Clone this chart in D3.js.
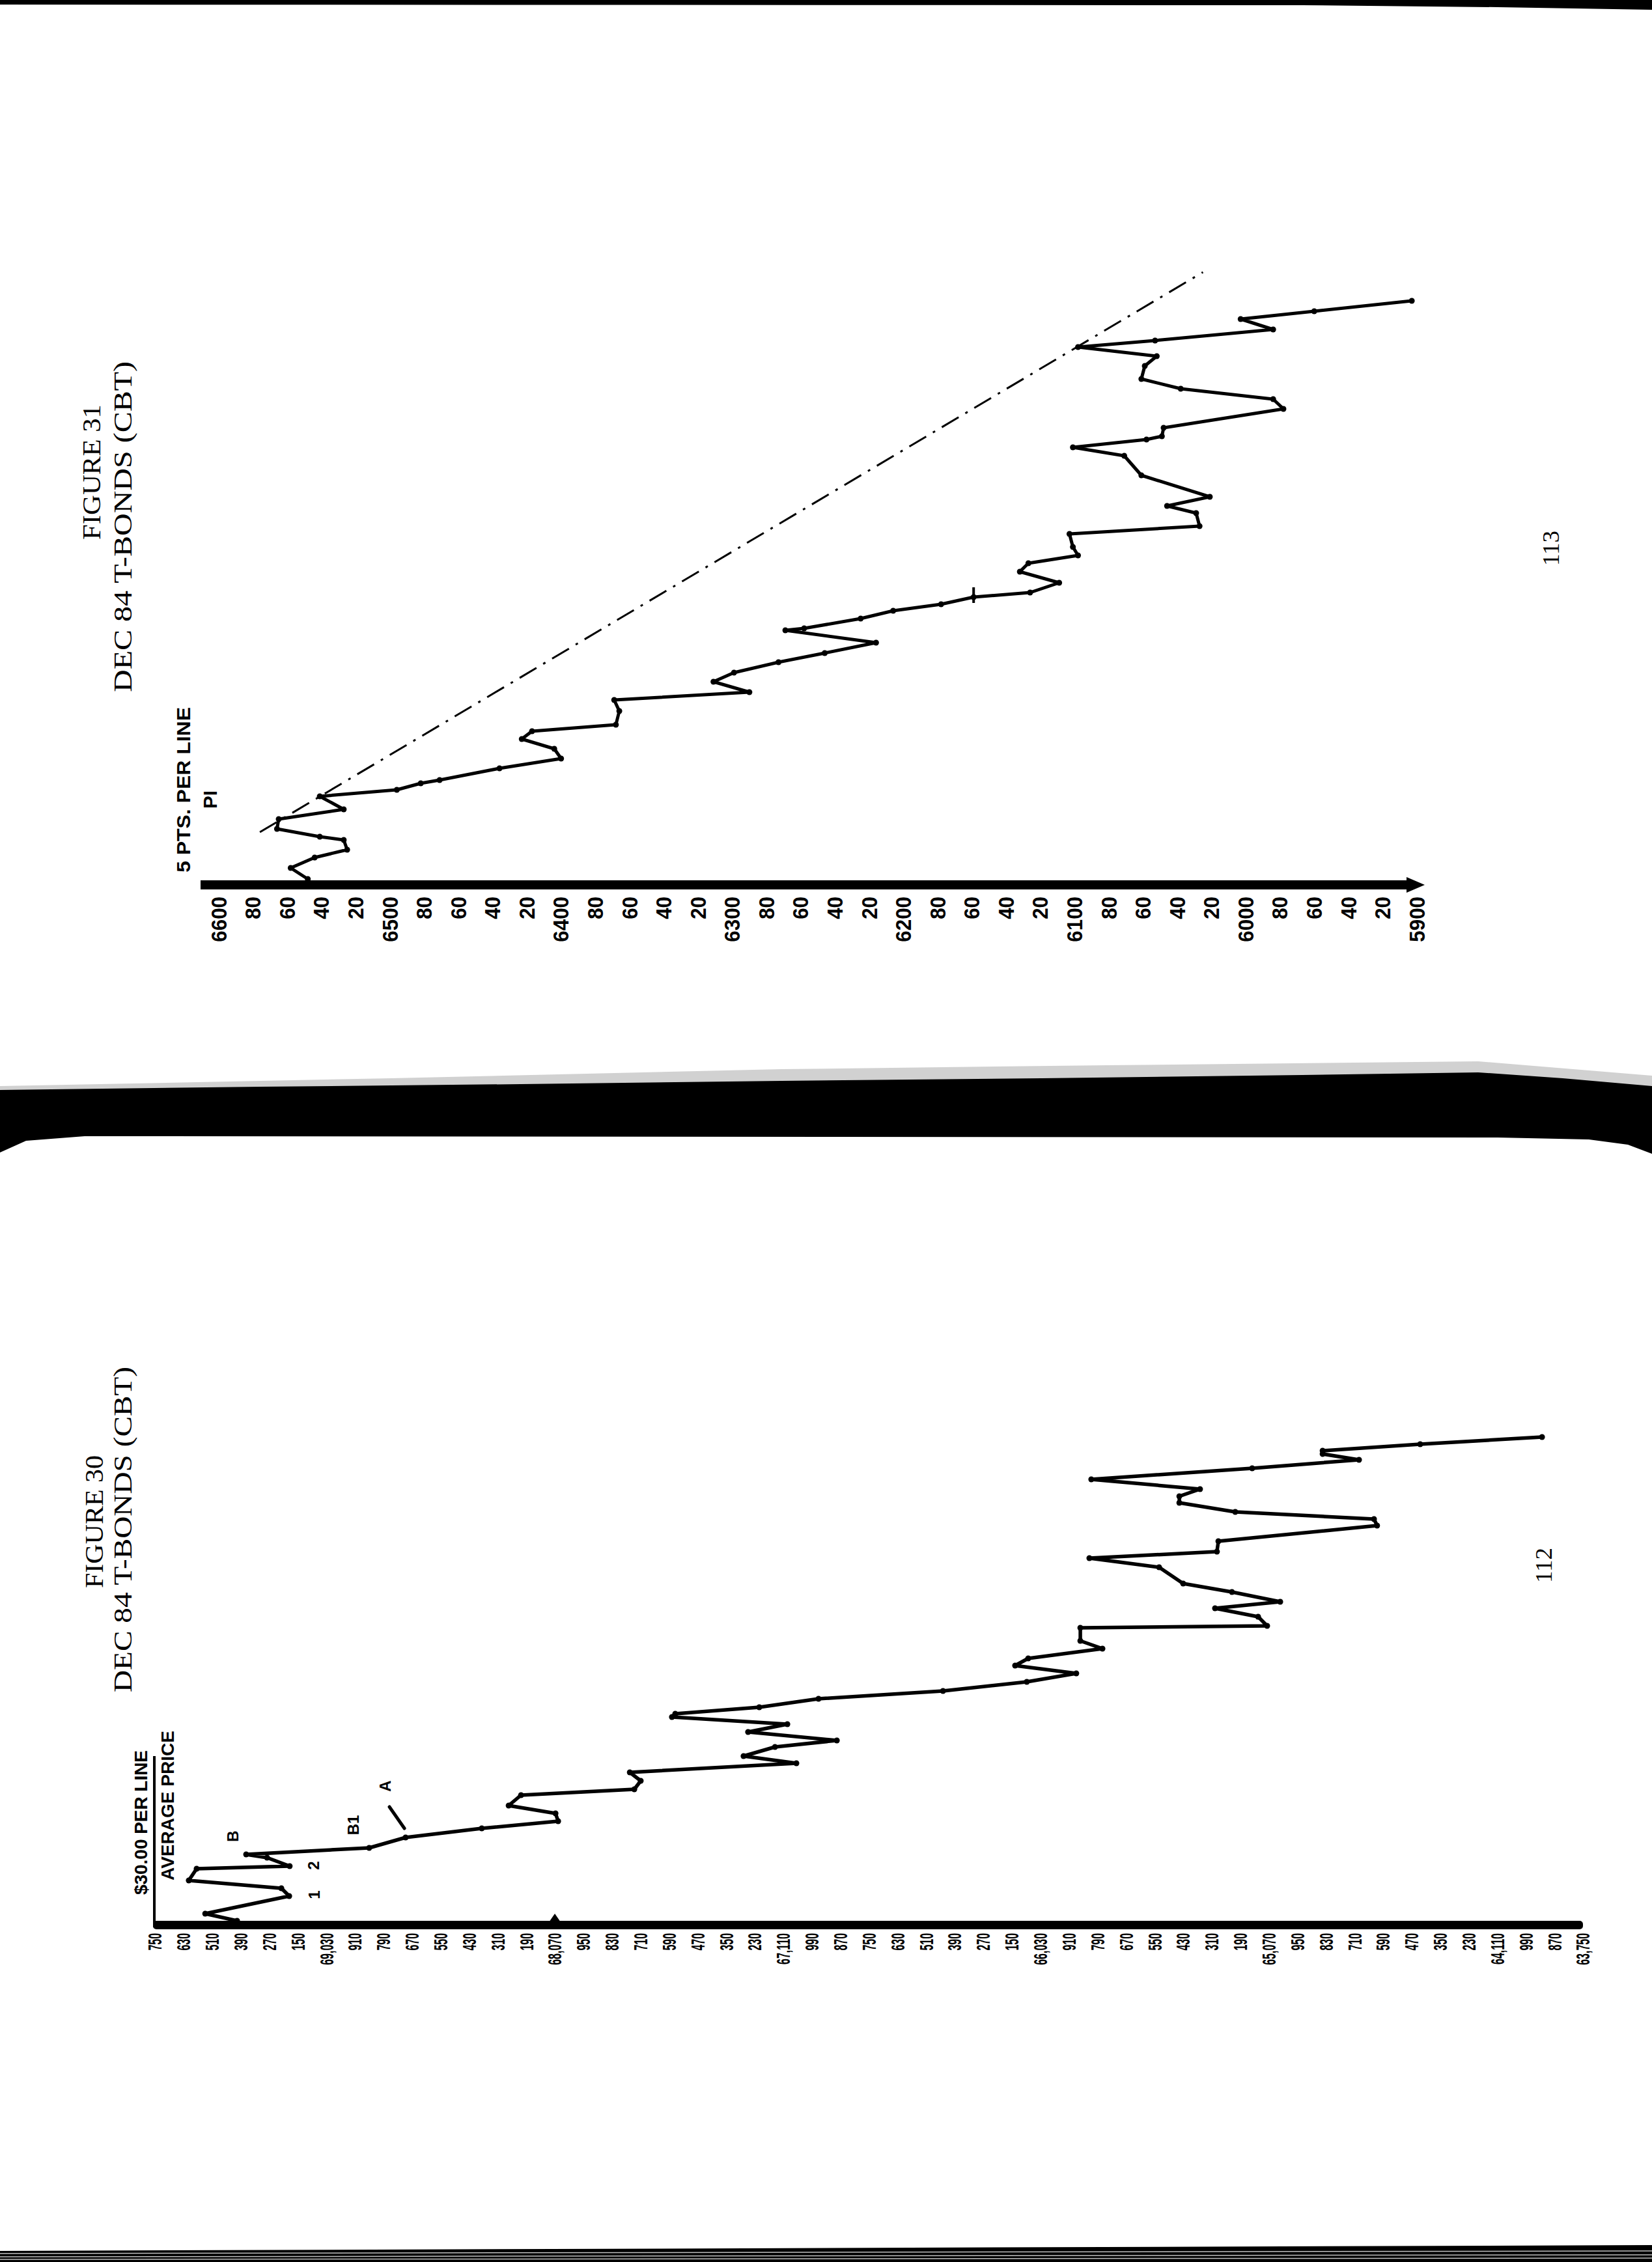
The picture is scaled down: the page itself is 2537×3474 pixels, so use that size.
<!DOCTYPE html>
<html>
<head>
<meta charset="utf-8">
<script src="https://cdn.jsdelivr.net/npm/d3@7"></script>
<style>
  html, body { margin: 0; padding: 0; background: #fff; }
  svg { display: block; }
</style>
</head>
<body>
<script>
// ---------------- DATA ----------------
// Figure 31 – DEC 84 T-Bonds (CBT), 5 pts per line
const f31TickValues = [6600,6580,6560,6540,6520,6500,6480,6460,6440,6420,6400,6380,6360,6340,6320,6300,6280,6260,6240,6220,6200,6180,6160,6140,6120,6100,6080,6060,6040,6020,6000,5980,5960,5940,5920,5900];
const f31TickLabels = ["6600","80","60","40","20","6500","80","60","40","20","6400","80","60","40","20","6300","80","60","40","20","6200","80","60","40","20","6100","80","60","40","20","6000","80","60","40","20","5900"];
const f31Price = [6548,6558,6544,6525,6527,6541,6566,6565,6527,6541,6496,6482,6471,6436,6400,6404,6423,6417,6368,6366,6369,6290,6311,6299,6273,6246,6216,6269,6258,6225,6206,6178,6159,6126,6109,6132,6127,6098,6101,6103,6027,6029,6046,6021,6061,6071,6101,6058,6049,6048,5978,5984,6038,6061,6059,6052,6098,6053,5984,6003,5960,5903];
const f31Time  = [0.2,1.9,3.5,4.7,6.2,6.7,7.9,9.4,10.9,12.9,13.9,14.9,15.4,17.2,18.7,20.2,21.7,22.9,23.9,26.0,27.7,28.9,30.5,31.9,33.5,34.9,36.5,38.4,38.7,40.2,41.4,42.4,43.5,44.2,45.7,47.4,48.7,49.9,51.2,53.2,54.4,56.4,57.5,58.9,62.2,65.2,66.5,67.7,68.2,69.5,72.4,73.9,75.5,77.0,79.0,80.5,81.9,82.9,84.6,86.2,87.4,89.0];
const f31TrendPrice = [6576, 6025];
const f31TrendTime  = [7.4, 93.4];
const f31MarkPrice = [6159, 6159];
const f31MarkTime  = [42.6, 45.0];

// Figure 30 – DEC 84 T-Bonds (CBT), $30.00 per line, average price
const f30TickValues = [69750,69630,69510,69390,69270,69150,69030,68910,68790,68670,68550,68430,68310,68190,68070,67950,67830,67710,67590,67470,67350,67230,67110,66990,66870,66750,66630,66510,66390,66270,66150,66030,65910,65790,65670,65550,65430,65310,65190,65070,64950,64830,64710,64590,64470,64350,64230,64110,63990,63870,63750];
const f30TickLabels = ["750","630","510","390","270","150","69,030","910","790","670","550","430","310","190","68,070","950","830","710","590","470","350","230","67,110","990","870","750","630","510","390","270","150","66,030","910","790","670","550","430","310","190","65,070","950","830","710","590","470","350","230","64,110","990","870","63,750"];
const f30Price = [69405,69539,69186,69219,69608,69575,69184,69279,69367,68850,68697,68377,68056,68067,68264,68212,67736,67709,67755,67055,67277,67145,66885,67258,67093,67578,67564,67211,66962,66439,66087,65879,66136,66081,65769,65862,65862,65077,65115,65296,65022,65225,65430,65531,65824,65288,65282,64615,64628,65211,65446,65446,65359,65816,65140,64691,64844,64844,64434,63922];
const f30Time  = [0,1.1,3.8,5.0,6.2,8.0,8.4,9.7,10.2,11.2,12.8,14.2,15.3,16.5,17.7,19.3,20.2,21.5,22.8,24.2,25.3,26.7,27.7,29.0,30.2,31.3,31.8,32.8,34.1,35.3,36.7,38.0,39.2,40.3,41.8,43.0,45.0,45.3,46.7,48.0,49.0,50.5,51.8,54.3,55.7,56.7,58.3,60.7,61.7,62.8,64.2,65.2,66.3,67.8,69.5,70.8,71.7,72.2,73.2,74.3];
const f30NoteText  = ["B","1","2","B1","A"];
const f30NotePrice = [69424,69080,69085,68916,68784];
const f30NoteTime  = [13.0,4.0,8.5,14.7,20.7];
const f30SlashPrice = [68765,68702];
const f30SlashTime  = [17.5,14.2];
const f30AxisMark = 68070;

// ---------------- LAYOUT ----------------
const W = 2537, H = 3474;
const SANS = "'Liberation Sans', Arial, Helvetica, sans-serif";
const SERIF = "'Liberation Serif', 'Times New Roman', serif";

const svg = d3.select("body").append("svg")
  .attr("width", W).attr("height", H).attr("viewBox", `0 0 ${W} ${H}`);
svg.append("rect").attr("width", W).attr("height", H).attr("fill", "#fff");

// rotated text helper (reads bottom-to-top)
function rtext(g, x, y, txt, o) {
  const t = g.append("text")
    .attr("transform", `translate(${x},${y}) rotate(-90)`)
    .attr("text-anchor", o.anchor || "middle")
    .attr("dominant-baseline", "central")
    .style("font-family", o.family || SANS)
    .style("font-size", o.size + "px")
    .style("font-weight", o.weight || "bold")
    .attr("fill", "#000")
    .text(txt);
  if (o.len) t.attr("textLength", o.len).attr("lengthAdjust", "spacingAndGlyphs");
  return t;
}

// ---------------- PAGE DECORATION (scan) ----------------
const deco = svg.append("g");
deco.append("path").attr("d", "M0,0 H2537 V15 L2300,11 L2000,8 L0,7 Z").attr("fill", "#000");
deco.append("path").attr("d", "M0,1668 L600,1656 L1200,1642 L1700,1636 L2270,1630 L2537,1652 L2537,1668 L0,1676 Z")
  .attr("fill", "#000").attr("opacity", 0.18);
deco.append("path")
  .attr("d", "M0,1674 L400,1669 L800,1665 L1200,1660 L1600,1656 L2000,1651 L2270,1647 L2400,1656 L2537,1668 L2537,1772 L2500,1758 L2440,1750 L2300,1747 L130,1745 L40,1752 L0,1770 Z")
  .attr("fill", "#000");
deco.append("path").attr("d", "M0,3457 L2537,3448 V3474 H0 Z").attr("fill", "#000");
[3461, 3466, 3470].forEach((yy, i) => {
  deco.append("line").attr("x1", 0).attr("x2", W).attr("y1", yy).attr("y2", yy - 4 + i)
    .attr("stroke", "#fff").attr("stroke-width", 1.5).attr("opacity", 0.75);
});

// ---------------- FIGURE 31 ----------------
const g31 = svg.append("g");
const axisY31 = 1352;
const x31 = d3.scaleLinear().domain([6600, 5900]).range([336, 2176]);
const y31 = d3.scaleLinear().domain([0, 100]).range([axisY31, axisY31 - 1000]);

rtext(g31, 140, 725, "FIGURE 31", {family: SERIF, size: 40, weight: "normal", len: 208});
rtext(g31, 188, 809, "DEC 84 T-BONDS (CBT)", {family: SERIF, size: 40, weight: "normal", len: 508});
rtext(g31, 2382, 842, "113", {family: SERIF, size: 36, weight: "normal", len: 54});
rtext(g31, 281, 1213, "5 PTS. PER LINE", {size: 30, len: 254});
rtext(g31, 322, 1228, "PI", {size: 30, len: 28});

const ax31 = d3.axisBottom(x31).tickValues(f31TickValues)
  .tickFormat(d => f31TickLabels[f31TickValues.indexOf(d)]).tickSize(0);
const gA31 = g31.append("g").attr("transform", `translate(0,${axisY31})`).call(ax31);
gA31.select(".domain").remove();
gA31.selectAll(".tick text")
  .attr("x", null).attr("y", null).attr("dy", null)
  .attr("transform", "translate(0,25) rotate(-90) scale(0.95,1)")
  .attr("text-anchor", "end").attr("dominant-baseline", "central")
  .attr("fill", "#000")
  .style("font-family", SANS).style("font-size", "33px").style("font-weight", "bold");
g31.append("rect").attr("x", 308).attr("y", axisY31).attr("width", 2166 - 308).attr("height", 14).attr("fill", "#000");
g31.append("path").attr("d", `M2160,${axisY31 - 5} L2188,${axisY31 + 7} L2160,${axisY31 + 19} Z`).attr("fill", "#000");

const trend31 = f31TrendPrice.map((p, i) => [x31(p), y31(f31TrendTime[i])]);
g31.append("path").attr("d", d3.line()(trend31))
  .attr("fill", "none").attr("stroke", "#000").attr("stroke-width", 3)
  .attr("stroke-dasharray", "30,12,4,12");

const pts31 = f31Price.map((p, i) => [x31(p), y31(f31Time[i])]);
g31.append("path").attr("d", d3.line()(pts31))
  .attr("fill", "none").attr("stroke", "#000").attr("stroke-width", 5)
  .attr("stroke-linejoin", "round").attr("stroke-linecap", "round");
g31.selectAll("circle.p31").data(pts31).join("circle")
  .attr("cx", d => d[0]).attr("cy", d => d[1]).attr("r", 4.5).attr("fill", "#000");
const mark31 = f31MarkPrice.map((p, i) => [x31(p), y31(f31MarkTime[i])]);
g31.append("path").attr("d", d3.line()(mark31)).attr("stroke", "#000").attr("stroke-width", 4);

// ---------------- FIGURE 30 ----------------
const g30 = svg.append("g");
const axisY30 = 2950;
const x30 = d3.scaleLinear().domain([69750, 63750]).range([238, 2431]);
const y30 = d3.scaleLinear().domain([0, 100]).range([axisY30, axisY30 - 1000]);

rtext(g30, 144, 2337, "FIGURE 30", {family: SERIF, size: 40, weight: "normal", len: 204});
rtext(g30, 188, 2349, "DEC 84 T-BONDS (CBT)", {family: SERIF, size: 40, weight: "normal", len: 500});
rtext(g30, 2371, 2404, "112", {family: SERIF, size: 36, weight: "normal", len: 54});
rtext(g30, 216, 2799, "$30.00 PER LINE", {size: 28, len: 222});
rtext(g30, 257, 2773, "AVERAGE PRICE", {size: 28, len: 230});
g30.append("line").attr("x1", 237).attr("x2", 237).attr("y1", 2697).attr("y2", axisY30 + 10)
  .attr("stroke", "#000").attr("stroke-width", 4);

const ax30 = d3.axisBottom(x30).tickValues(f30TickValues)
  .tickFormat(d => f30TickLabels[f30TickValues.indexOf(d)]).tickSize(0);
const gA30 = g30.append("g").attr("transform", `translate(0,${axisY30})`).call(ax30);
gA30.select(".domain").remove();
gA30.selectAll(".tick text")
  .attr("x", null).attr("y", null).attr("dy", null)
  .attr("transform", "translate(0,19) rotate(-90) scale(0.55,1)")
  .attr("text-anchor", "end").attr("dominant-baseline", "central")
  .attr("fill", "#000")
  .style("font-family", SANS).style("font-size", "29px").style("font-weight", "bold");
g30.append("rect").attr("x", 235).attr("y", axisY30).attr("width", 2431 - 235).attr("height", 13)
  .attr("rx", 5).attr("fill", "#000");
const mx = x30(f30AxisMark);
g30.append("path").attr("d", `M${mx - 9},${axisY30 + 2} L${mx},${axisY30 - 11} L${mx + 9},${axisY30 + 2} Z`).attr("fill", "#000");

f30NoteText.forEach((t, i) => {
  rtext(g30, x30(f30NotePrice[i]), y30(f30NoteTime[i]), t, {size: 24});
});
const slash = f30SlashPrice.map((p, i) => [x30(p), y30(f30SlashTime[i])]);
g30.append("path").attr("d", d3.line()(slash)).attr("stroke", "#000").attr("stroke-width", 5)
  .attr("stroke-linecap", "round");

const pts30 = f30Price.map((p, i) => [x30(p), y30(f30Time[i])]);
g30.append("path").attr("d", d3.line()(pts30))
  .attr("fill", "none").attr("stroke", "#000").attr("stroke-width", 5.5)
  .attr("stroke-linejoin", "round").attr("stroke-linecap", "round");
g30.selectAll("circle.p30").data(pts30).join("circle")
  .attr("cx", d => d[0]).attr("cy", d => d[1]).attr("r", 4.5).attr("fill", "#000");
</script>
</body>
</html>
